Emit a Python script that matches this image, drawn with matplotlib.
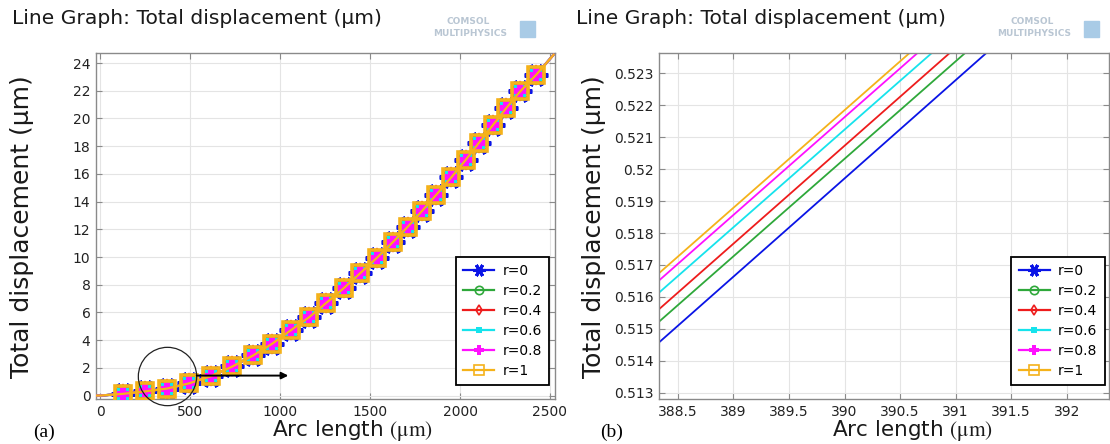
import matplotlib
matplotlib.use('Agg')
import matplotlib.pyplot as plt
from matplotlib.lines import Line2D
from matplotlib.patches import Rectangle

plt.rcParams['font.family'] = ['DejaVu Sans']
plt.rcParams['mathtext.fontset'] = 'stix'

# series labels / colours
labels = ['r=0', 'r=0.2', 'r=0.4', 'r=0.6', 'r=0.8', 'r=1']
colors = ['#0a14e6', '#2ea83a', '#ee1c1c', '#16e3ec', '#ff10ff', '#f5b21a']

# (a) full curve, all r overlap at this scale
arc = [-25, 0, 123, 249, 369, 493, 614, 734, 850, 956, 1057, 1160, 1257, 1353,
       1446, 1538, 1628, 1710, 1790, 1868, 1951, 2031, 2105, 2181, 2257, 2334,
       2423, 2520]
disp = [0, 0, 0.12, 0.3, 0.5, 0.88, 1.4, 2.1, 2.9, 3.75, 4.7, 5.65, 6.7, 7.75,
        8.85, 9.95, 11.1, 12.2, 13.35, 14.5, 15.75, 17.0, 18.25, 19.5, 20.75,
        21.95, 23.15, 24.6]
# marker positions along the curve
mark_arc = arc[2:-1]
mark_disp = disp[2:-1]

# (b) zoom near 390 um
zoom_arc = [388.3, 389.5, 390.5, 391.5]
zoom_disp = [
    [0.51448, 0.51817, 0.52125, 0.52433],
    [0.51513, 0.51880, 0.52185, 0.52491],
    [0.51552, 0.51920, 0.52227, 0.52534],
    [0.51604, 0.51971, 0.52277, 0.52582],
    [0.51642, 0.52010, 0.52316, 0.52623],
    [0.51665, 0.52032, 0.52338, 0.52644],
]

xticks_a = [0, 500, 1000, 1500, 2000, 2500]
yticks_a = list(range(0, 25, 2))
xticks_b = [388.5, 389, 389.5, 390, 390.5, 391, 391.5, 392]
xlabels_b = ['388.5', '389', '389.5', '390', '390.5', '391', '391.5', '392']
yticks_b = [0.513, 0.514, 0.515, 0.516, 0.517, 0.518, 0.519, 0.52, 0.521, 0.522, 0.523]
ylabels_b = ['0.513', '0.514', '0.515', '0.516', '0.517', '0.518', '0.519', '0.52',
             '0.521', '0.522', '0.523']

W, H = 1110, 444
fig = plt.figure(figsize=(W / 100, H / 100), dpi=100)
ax1 = fig.add_axes([96 / W, 1 - 399 / H, 459 / W, 346.3 / H])
ax2 = fig.add_axes([659 / W, 1 - 399 / H, 450 / W, 346.3 / H])

# big markers as drawn on the curve
plot_marks = [
    dict(marker=(6, 2, 90), ms=17, mew=3.0, mfc=colors[0], mec=colors[0]),
    dict(marker='o', ms=12, mew=1.5, mfc='none', mec=colors[1]),
    dict(marker='D', ms=9, mew=1.5, mfc='none', mec=colors[2]),
    dict(marker='s', ms=9, mew=0, mfc=colors[3], mec=colors[3]),
    dict(marker='P', ms=11, mew=0, mfc=colors[4], mec=colors[4]),
    dict(marker='s', ms=11, mew=2.6, mfc='none', mec=colors[5]),
]
# small markers in the legends
legend_marks = [
    dict(marker=(6, 2, 90), ms=9, mew=2.2),
    dict(marker='o', ms=6, mew=1.2, mfc='none'),
    dict(marker='d', ms=5, mew=1.2, mfc='none'),
    dict(marker='s', ms=5, mew=0),
    dict(marker='P', ms=7, mew=0),
    dict(marker='s', ms=7, mew=1.2, mfc='none'),
]

for i in range(6):
    ax1.plot(arc, disp, color=colors[i], lw=1.6, zorder=2 + i)
    ax1.plot(mark_arc, mark_disp, ls='none', zorder=2 + i, **plot_marks[i])
    ax2.plot(zoom_arc, zoom_disp[i], color=colors[i], lw=1.3)

handles = [Line2D([], [], color=colors[i], lw=1.6, **legend_marks[i]) for i in range(6)]


def style_axes(ax):
    ax.grid(True, color='#e4e4e4', lw=0.8)
    ax.set_axisbelow(True)
    for s in ax.spines.values():
        s.set_color('#8a8a8a')
        s.set_linewidth(1.0)
    ax.tick_params(direction='in', length=4, color='#8a8a8a', top=True, right=True,
                   labelsize=10, labelcolor='#222222', pad=4)


ax1.set_xlim(-25, 2528)
ax1.set_ylim(-0.25, 24.75)
ax1.set_xticks(xticks_a)
ax1.set_yticks(yticks_a)
style_axes(ax1)

ax2.set_xlim(388.33, 392.38)
ax2.set_ylim(0.5128, 0.52365)
ax2.set_xticks(xticks_b, xlabels_b)
ax2.set_yticks(yticks_b, ylabels_b)
style_axes(ax2)

for ax, xr in [(ax1, 0.9876), (ax2, 0.991)]:
    leg = ax.legend(handles, labels, loc='lower right', bbox_to_anchor=(xr, 0.04),
                    borderaxespad=0, fontsize=10, handlelength=2.2, handletextpad=0.6,
                    labelspacing=0.42, borderpad=0.55, fancybox=False, framealpha=1)
    leg.get_frame().set_edgecolor('black')
    leg.get_frame().set_linewidth(1.3)

# circle + arrow annotation
ax1.plot(372, 1.44, 'o', ms=42, mfc='none', mec='#222222', mew=0.9, clip_on=False, zorder=20)
ax1.annotate('', xy=(1060, 1.44), xytext=(520, 1.44),
             arrowprops=dict(arrowstyle='-|>', color='black', lw=1.4, mutation_scale=10),
             zorder=21)

# titles
fig.text(12 / W, 1 - 19 / H, 'Line Graph: Total displacement (μm)', fontsize=14.6,
         va='center', ha='left', color='#1a1a1a')
fig.text(576 / W, 1 - 19 / H, 'Line Graph: Total displacement (μm)', fontsize=14.6,
         va='center', ha='left', color='#1a1a1a')

# COMSOL logos
for lx in [468, 1032]:
    fig.text(lx / W, 1 - 22 / H, 'COMSOL', fontsize=6.5, color='#b9c6d3',
             ha='center', va='center', weight='bold')
    fig.text((lx + 2) / W, 1 - 33 / H, 'MULTIPHYSICS', fontsize=6.5, color='#b9c6d3',
             ha='center', va='center', weight='bold')
    fig.add_artist(Rectangle(((lx + 52) / W, 1 - 37 / H), 15 / W, 16 / H,
                             color='#a9cbe6', transform=fig.transFigure))

# axis labels
fig.text(22 / W, 1 - 227 / H, 'Total displacement (μm)', rotation=90, fontsize=18,
         ha='center', va='center', color='#1a1a1a')
fig.text(594 / W, 1 - 227 / H, 'Total displacement (μm)', rotation=90, fontsize=18,
         ha='center', va='center', color='#1a1a1a')
fig.text(352 / W, 1 - 430 / H, r'Arc length $(\mathrm{μm})$', fontsize=15.5,
         ha='center', va='center', color='#1a1a1a')
fig.text(912 / W, 1 - 430 / H, r'Arc length $(\mathrm{μm})$', fontsize=15.5,
         ha='center', va='center', color='#1a1a1a')

# panel tags
fig.text(33 / W, 1 - 432 / H, '(a)', fontsize=14, family='Liberation Serif',
         ha='left', va='center')
fig.text(600 / W, 1 - 432 / H, '(b)', fontsize=14, family='Liberation Serif',
         ha='left', va='center')

fig.savefig('out.png', dpi=100, facecolor='white')
